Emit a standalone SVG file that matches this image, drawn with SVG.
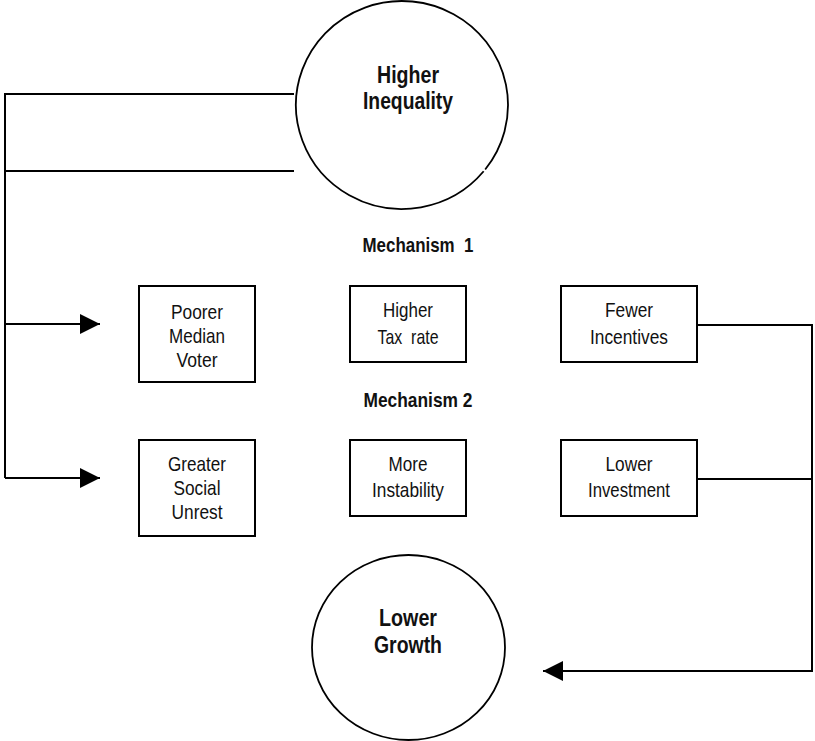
<svg xmlns="http://www.w3.org/2000/svg" width="815" height="741" viewBox="0 0 815 741">
<defs>
<marker id="arr" markerUnits="userSpaceOnUse" markerWidth="20" markerHeight="20" refX="20" refY="10" orient="auto">
<path d="M0,0 L20,10 L0,20 Z" fill="#000"/>
</marker>
<style>
.n{fill:#fff;stroke:#000;stroke-width:2}
.c{fill:#fff;stroke:#000;stroke-width:1.8}
.t{font-family:"Liberation Sans",Arial,sans-serif;font-size:21px;text-anchor:middle;fill:#111}
.b{font-family:"Liberation Sans",Arial,sans-serif;font-weight:bold;text-anchor:middle;fill:#111}
.l{fill:none;stroke:#000;stroke-width:2}
</style>
</defs>
<rect width="815" height="741" fill="#fff"/>
<g id="connectors">
<polyline class="l" points="294,94 5,94 5,478"/>
<line class="l" x1="5" y1="171" x2="294" y2="171"/>
<line class="l" x1="5" y1="324" x2="100" y2="324" marker-end="url(#arr)"/>
<line class="l" x1="5" y1="478" x2="100" y2="478" marker-end="url(#arr)"/>
<polyline class="l" points="697,325 812,325 812,671 543,671" marker-end="url(#arr)"/>
<line class="l" x1="697" y1="479" x2="812" y2="479"/>
</g>
<g id="higher-inequality">
<path class="c" d="M483.67,171.29 A106,104 0 0 1 302.39,69.43 A106,104 0 1 1 485.19,169.46"/>
<text class="b" font-size="24" x="408" y="83" textLength="62" lengthAdjust="spacingAndGlyphs">Higher</text>
<text class="b" font-size="24" x="408" y="109" textLength="90" lengthAdjust="spacingAndGlyphs">Inequality</text>
</g>
<g id="mechanism-1"><text class="b" font-size="21" x="418" y="252" xml:space="preserve" textLength="111" lengthAdjust="spacingAndGlyphs">Mechanism  1</text></g>
<g id="mechanism-2"><text class="b" font-size="21" x="418" y="407" textLength="109" lengthAdjust="spacingAndGlyphs">Mechanism 2</text></g>
<g id="poorer-median-voter">
<rect class="n" x="139" y="286" width="116" height="96"/>
<text class="t" x="197" y="319" textLength="52" lengthAdjust="spacingAndGlyphs">Poorer</text>
<text class="t" x="197" y="343" textLength="56" lengthAdjust="spacingAndGlyphs">Median</text>
<text class="t" x="197" y="367" textLength="41" lengthAdjust="spacingAndGlyphs">Voter</text>
</g>
<g id="higher-tax-rate">
<rect class="n" x="350" y="286" width="116" height="76"/>
<text class="t" x="408" y="317" textLength="50" lengthAdjust="spacingAndGlyphs">Higher</text>
<text class="t" x="408" y="344" xml:space="preserve" textLength="61" lengthAdjust="spacingAndGlyphs">Tax  rate</text>
</g>
<g id="fewer-incentives">
<rect class="n" x="561" y="286" width="136" height="76"/>
<text class="t" x="629" y="317" textLength="48" lengthAdjust="spacingAndGlyphs">Fewer</text>
<text class="t" x="629" y="344" textLength="78" lengthAdjust="spacingAndGlyphs">Incentives</text>
</g>
<g id="greater-social-unrest">
<rect class="n" x="139" y="440" width="116" height="96"/>
<text class="t" x="197" y="471" textLength="58" lengthAdjust="spacingAndGlyphs">Greater</text>
<text class="t" x="197" y="495" textLength="47" lengthAdjust="spacingAndGlyphs">Social</text>
<text class="t" x="197" y="519" textLength="51" lengthAdjust="spacingAndGlyphs">Unrest</text>
</g>
<g id="more-instability">
<rect class="n" x="350" y="440" width="116" height="76"/>
<text class="t" x="408" y="471" textLength="39" lengthAdjust="spacingAndGlyphs">More</text>
<text class="t" x="408" y="497" textLength="72" lengthAdjust="spacingAndGlyphs">Instability</text>
</g>
<g id="lower-investment">
<rect class="n" x="561" y="440" width="136" height="76"/>
<text class="t" x="629" y="471" textLength="47" lengthAdjust="spacingAndGlyphs">Lower</text>
<text class="t" x="629" y="497" textLength="82" lengthAdjust="spacingAndGlyphs">Investment</text>
</g>
<g id="lower-growth">
<ellipse class="c" cx="408.5" cy="647.5" rx="96.5" ry="92.5"/>
<text class="b" font-size="24" x="408" y="626" textLength="58" lengthAdjust="spacingAndGlyphs">Lower</text>
<text class="b" font-size="24" x="408" y="653" textLength="68" lengthAdjust="spacingAndGlyphs">Growth</text>
</g>
</svg>
